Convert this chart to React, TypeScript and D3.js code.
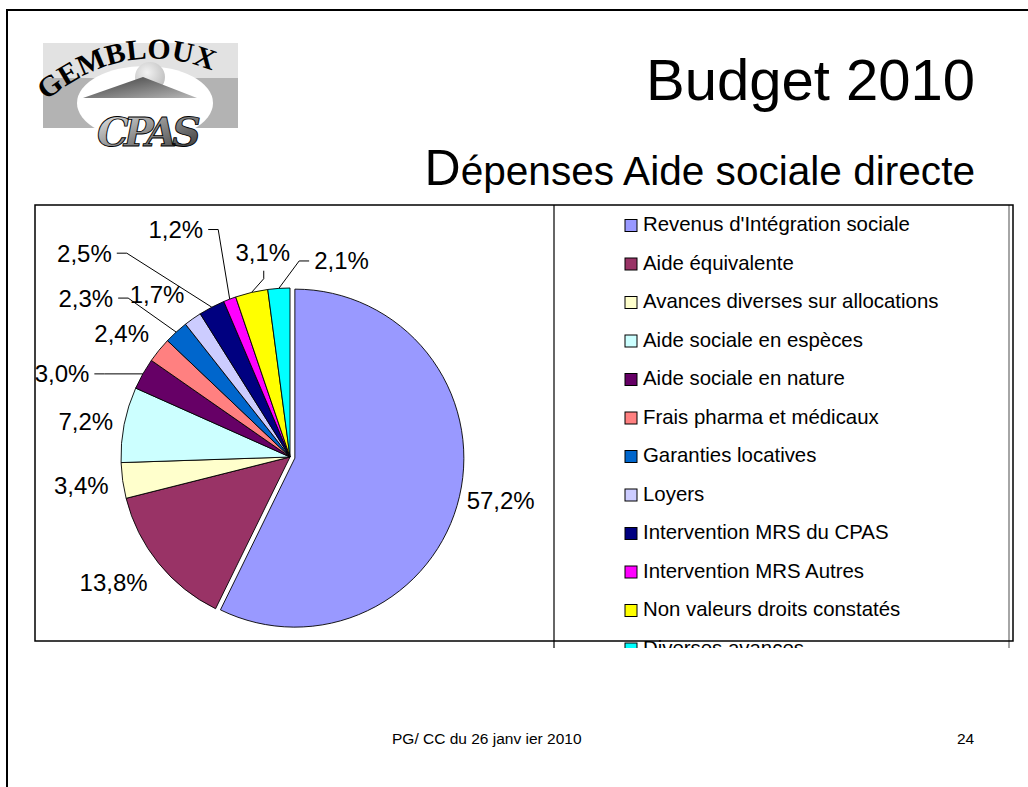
import React from "react";
import * as d3 from "d3";

// ---- Data ----
const categories = [
  "Revenus d'Intégration sociale",
  "Aide équivalente",
  "Avances diverses sur allocations",
  "Aide sociale en espèces",
  "Aide sociale en nature",
  "Frais pharma et médicaux",
  "Garanties locatives",
  "Loyers",
  "Intervention MRS du CPAS",
  "Intervention MRS Autres",
  "Non valeurs droits constatés",
  "Diverses avances",
];
const values = [57.2, 13.8, 3.4, 7.2, 3.0, 2.4, 2.3, 1.7, 2.5, 1.2, 3.1, 2.1];
const colors = [
  "#9999FF", "#993366", "#FFFFCC", "#CCFFFF", "#660066", "#FF8080",
  "#0066CC", "#CCCCFF", "#000080", "#FF00FF", "#FFFF00", "#00FFFF",
];
const titleText = "Budget 2010";
const subtitleFirst = "D";
const subtitleRest = "épenses Aide sociale directe";
const footerText = "PG/ CC du 26 janv ier 2010";
const pageNumber = "24";
const logoTop = "GEMBLOUX";
const logoMain = "CPAS";

// ---- Layout (label placement relative to slice edge) ----
type LabelLayout = { dx: number; dy: number; anchor: "start" | "end" | "middle"; leader: "" | "h" | "v" };
const labelLayout: LabelLayout[] = [
  { dx: 12, dy: 5, anchor: "start", leader: "" },
  { dx: -11, dy: 19.5, anchor: "end", leader: "" },
  { dx: -14, dy: 4.5, anchor: "end", leader: "" },
  { dx: -11, dy: -3, anchor: "end", leader: "" },
  { dx: -53.5, dy: 0, anchor: "end", leader: "h" },
  { dx: -10, dy: -17, anchor: "end", leader: "" },
  { dx: -63, dy: -34, anchor: "end", leader: "h" },
  { dx: -8.4, dy: -24.5, anchor: "end", leader: "" },
  { dx: -100, dy: -54, anchor: "end", leader: "h" },
  { dx: -26.5, dy: -69.6, anchor: "end", leader: "h" },
  { dx: 11.2, dy: -39.7, anchor: "middle", leader: "v" },
  { dx: 35.3, dy: -27.4, anchor: "start", leader: "h" },
];

const W = 1028;
const H = 787;
const cx = 290;
const cy = 457;
const R = 169;
const explode = [5, 0, 0, 0, 0, 0, 0, 0, 0, 0, 0, 0];
const FONT = "'Liberation Sans', Arial, Helvetica, sans-serif";

const fmt = (v: number) => d3.format(".1f")(v).replace(".", ",") + "%";

export default function App() {
  const pie = d3
    .pie<number>()
    .sort(null)
    .value((d) => d)
    .startAngle(0)
    .endAngle(2 * Math.PI);
  const arcs = pie(values);
  const arcGen = d3.arc<d3.PieArcDatum<number>>().innerRadius(0).outerRadius(R);

  const legendX = 625;
  const legendY0 = 231;
  const legendStep = 38.5;

  return (
    <svg
      width={W}
      height={H}
      viewBox={`0 0 ${W} ${H}`}
      style={{ position: "absolute", left: 0, top: 0, background: "#fff" }}
    >
      <defs>
        <linearGradient id="capGrad" x1="0" y1="0" x2="1" y2="1">
          <stop offset="0" stopColor="#3a3a3a" />
          <stop offset="1" stopColor="#b8b8b8" />
        </linearGradient>
        <radialGradient id="sphereGrad" cx="0.4" cy="0.35" r="0.7">
          <stop offset="0" stopColor="#f2f2f2" />
          <stop offset="1" stopColor="#bdbdbd" />
        </radialGradient>
        <linearGradient id="cpasGrad" x1="0" y1="0" x2="1" y2="1">
          <stop offset="0" stopColor="#f4f4f4" />
          <stop offset="0.5" stopColor="#8a8a8a" />
          <stop offset="1" stopColor="#2e2e2e" />
        </linearGradient>
        <path id="gemPath" d="M 46 101 Q 133 30 228 78" />
        <clipPath id="legendClip">
          <rect x={554} y={205} width={455} height={443} />
        </clipPath>
      </defs>
      <rect x={0} y={0} width={W} height={H} fill="#fff" />

      {/* slide border */}
      <line x1={6} y1={10} x2={W} y2={10} stroke="#000" strokeWidth={2} />
      <line x1={7} y1={10} x2={7} y2={H} stroke="#000" strokeWidth={2} />

      {/* logo */}
      <g>
        <rect x={43} y={43} width={195} height={35} fill="#e2e2e2" />
        <rect x={43} y={78} width={195} height={50} fill="#b3b3b3" />
        <ellipse cx={145} cy={103} rx={68} ry={37} fill="#fff" />
        <rect x={70} y={128} width={150} height={22} fill="#fff" />
        <circle cx={150} cy={77} r={15} fill="url(#sphereGrad)" />
        <polygon points="83,98 143,77 197,98" fill="url(#capGrad)" />
        <text
          fontFamily="'Liberation Serif', 'DejaVu Serif', serif"
          fontWeight="bold"
          fontSize={29}
          fill="#000"
        >
          <textPath href="#gemPath" textLength={178} lengthAdjust="spacingAndGlyphs">
            {logoTop}
          </textPath>
        </text>
        <text
          x={97}
          y={146}
          fontFamily="'DejaVu Serif', serif"
          fontStyle="italic"
          fontWeight="bold"
          fontSize={40}
          letterSpacing={-5}
          fill="url(#cpasGrad)"
          stroke="#000"
          strokeWidth={0.9}
        >
          {logoMain}
        </text>
      </g>

      {/* titles */}
      <text x={975} y={100} textAnchor="end" fontFamily={FONT} fontSize={58} fill="#000">
        {titleText}
      </text>
      <text x={975} y={185} textAnchor="end" fontFamily={FONT} fill="#000">
        <tspan fontSize={50}>{subtitleFirst}</tspan>
        <tspan fontSize={40.6}>{subtitleRest}</tspan>
      </text>

      {/* pie slices */}
      <g>
        {arcs.map((a, i) => {
          const mid = (a.startAngle + a.endAngle) / 2;
          const ox = explode[i] * Math.sin(mid);
          const oy = -explode[i] * Math.cos(mid);
          return (
            <path
              key={i}
              d={arcGen(a) || ""}
              transform={`translate(${cx + ox},${cy + oy})`}
              fill={colors[i]}
              stroke="#000"
              strokeWidth={0.9}
              strokeLinejoin="round"
            />
          );
        })}
      </g>

      {/* labels & leader lines */}
      <g fontFamily={FONT} fontSize={24} fill="#000">
        {arcs.map((a, i) => {
          const mid = (a.startAngle + a.endAngle) / 2;
          const px = cx + R * Math.sin(mid);
          const py = cy - R * Math.cos(mid);
          const L = labelLayout[i];
          const lx = px + L.dx;
          const ly = py + L.dy;
          let leader: React.ReactNode = null;
          if (L.leader === "h") {
            const side = L.anchor === "end" ? 1 : -1;
            const pts: [number, number][] = [
              [px, py],
              [lx + side * 15, ly],
              [lx + side * 5, ly],
            ];
            leader = (
              <path d={d3.line()(pts) || ""} fill="none" stroke="#000" strokeWidth={1} />
            );
          } else if (L.leader === "v") {
            const pts: [number, number][] = [
              [px, py],
              [lx + 1, ly + 26],
              [lx + 1, ly + 18],
            ];
            leader = (
              <path d={d3.line()(pts) || ""} fill="none" stroke="#000" strokeWidth={1} />
            );
          }
          return (
            <g key={i}>
              {leader}
              <text x={lx} y={ly + 8.5} textAnchor={L.anchor}>
                {fmt(values[i])}
              </text>
            </g>
          );
        })}
      </g>

      {/* legend */}
      <g clipPath="url(#legendClip)" fontFamily={FONT} fontSize={20.4} fill="#000">
        {categories.map((c, i) => {
          const by = legendY0 + i * legendStep;
          return (
            <g key={i}>
              <rect
                x={legendX}
                y={by - 11.5}
                width={12}
                height={12}
                fill={colors[i]}
                stroke="#000"
                strokeWidth={1}
              />
              <text x={643} y={by}>
                {c}
              </text>
            </g>
          );
        })}
      </g>
      <line x1={554} y1={205} x2={554} y2={648} stroke="#333" strokeWidth={1.5} />
      <line x1={1009} y1={205} x2={1009} y2={648} stroke="#888" strokeWidth={1.5} />

      {/* chart border */}
      <rect x={35} y={205} width={978} height={436} fill="none" stroke="#000" strokeWidth={1.5} />

      {/* footer */}
      <text x={392} y={744} fontFamily={FONT} fontSize={15.5} fill="#000">
        {footerText}
      </text>
      <text x={957} y={744} fontFamily={FONT} fontSize={15.5} fill="#000">
        {pageNumber}
      </text>
    </svg>
  );
}
